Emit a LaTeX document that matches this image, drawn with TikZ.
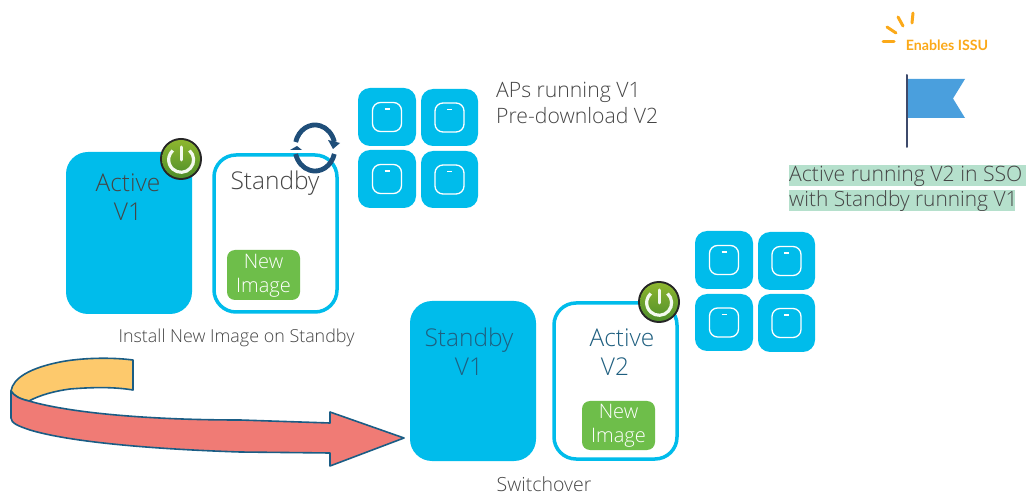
\documentclass[tikz,border=0pt]{standalone}
\usepackage{fontspec}
\setmainfont{Open Sans Light}[BoldFont={Open Sans}]
\newfontfamily\lato{Lato}
\definecolor{ciscoblue}{HTML}{00BCEB}
\definecolor{imggreen}{HTML}{6EBE4A}
\definecolor{txtgrey}{HTML}{454545}
\definecolor{titleblue}{HTML}{1F5F80}
\definecolor{syncblue}{HTML}{1F4E79}
\definecolor{arrowred}{HTML}{F07B75}
\definecolor{arrowyel}{HTML}{FDC96C}
\definecolor{edgeblue}{HTML}{1A5D85}
\definecolor{orangetxt}{HTML}{FBA919}
\definecolor{flagblue}{HTML}{4A9FDD}
\definecolor{hl}{HTML}{B5E0CC}
\definecolor{poletone}{HTML}{3E4A6B}
\definecolor{powertop}{HTML}{8DB62F}
\definecolor{powerbot}{HTML}{4E8E2B}
\tikzset{
  solidbox/.style={draw=none,fill=ciscoblue,rounded corners=22pt},
  linebox/.style={draw=ciscoblue,line width=3.5pt,fill=white,rounded corners=22pt},
  imgbox/.style={fill=imggreen,rounded corners=8pt},
  imgtext/.style={text=white,align=center,inner sep=0pt,font=\fontsize{20}{24}\selectfont},
  boxlabel/.style={align=center,font=\fontsize{24.5}{29}\selectfont,text=txtgrey,inner sep=0pt},
  tile/.style={fill=ciscoblue,rounded corners=12pt},
  apglyph/.style={draw=white,line width=1.3pt,rounded corners=8pt},
  apdot/.style={draw=white,line width=1.3pt},
  caption/.style={font=\fontsize{17.9}{22}\selectfont,text=txtgrey,inner sep=0pt},
  note/.style={anchor=west,inner sep=0pt,font=\fontsize{21.2}{24}\selectfont,text=txtgrey},
  hlbox/.style={fill=hl,draw=none},
  ray/.style={draw=orangetxt,line width=3pt,line cap=round},
  arrowedge/.style={draw=edgeblue,line width=1.6pt,line join=round},
}
\newcommand{\aptile}[4]{% x1 y1 x2 y2
  \fill[tile] (#1,#2) rectangle (#3,#4);
  \draw[apglyph] ({(#1+#3)/2-14.5},{(#2+#4)/2-14.5}) rectangle ({(#1+#3)/2+14.5},{(#2+#4)/2+14.5});
  \draw[apdot] ({(#1+#3)/2-2.5},{(#2+#4)/2-8}) -- ({(#1+#3)/2+2.5},{(#2+#4)/2-8});
}
\newcommand{\powericon}[3]{% name x y
  \node[circle,minimum size=42pt,inner sep=0pt,fill=black!85] (#1) at (#2,#3) {};
  \shade[top color=powertop,bottom color=powerbot] (#2,#3) circle (19);
  \draw[white!92!imggreen,line width=3.2pt] ({#2+8.5},{#3-8.5}) arc[start angle=-48,end angle=228,radius=12.5];
  \draw[white!92!imggreen,line width=3pt,line cap=round] (#2,{#3-12}) -- (#2,{#3+1});
}
\begin{document}
\begin{tikzpicture}[x=1pt,y=-1pt]
\useasboundingbox (0,0) rectangle (1026,494);
% first pair
\fill[solidbox] (66,152) rectangle (192,314);
\node[boxlabel] (active1) at (128,197) {Active\\V1};
\draw[linebox] (214,155) rectangle (337,312);
\node[boxlabel] (standby1) at (275,183) {Standby};
\fill[imgbox] (227,250) rectangle (300,300);
\node[imgtext] (img1) at (263.5,275.5) {New\\Image};
\powericon{pw1}{181}{159}
% sync icon
\draw[syncblue,line width=4.8pt] (295.7,142) arc[start angle=195,end angle=345,x radius=20,y radius=23];
\draw[syncblue,line width=4.8pt] (334.3,154) arc[start angle=15,end angle=165,x radius=20,y radius=23];
\fill[syncblue] (328,140) -- (340,143) -- (333,149) -- cycle;
\fill[syncblue] (290,150) -- (302,150) -- (297,146) -- cycle;
% AP tiles
\aptile{358}{88}{416}{146}
\aptile{421}{89}{478}{146}
\aptile{358}{150}{416}{208}
\aptile{421}{151}{478}{208}
\node[note] (aps1) at (496,92) {APs running V1};
\node[note] (aps2) at (496,116) {Pre-download V2};
\node[caption] (cap1) at (236.5,338) {Install New Image on Standby};
% second pair
\fill[solidbox] (410,301) rectangle (536,461);
\node[boxlabel,text=titleblue] (standby2) at (469,352) {Standby\\V1};
\draw[linebox] (554,303) rectangle (677,459);
\node[boxlabel,text=titleblue] (active2) at (622,352) {Active\\V2\rule{14pt}{0pt}};
\fill[imgbox] (582,401) rectangle (655,450);
\node[imgtext] (img2) at (618.5,426) {New\\Image};
\powericon{pw2}{659}{302}
\aptile{695}{231}{753}{289}
\aptile{758}{232}{815}{290}
\aptile{695}{294}{753}{351}
\aptile{758}{294}{815}{352}
\node[caption,font=\fontsize{19.5}{22}\selectfont] (cap2) at (544,484) {Switchover};
% curved arrow
\draw[arrowedge,fill=arrowyel] (133,360) .. controls (110,357) and (80,358) .. (60,362) .. controls (30,368) and (13,378) .. (11,391) .. controls (14,396) and (20,399) .. (29,401) .. controls (40,395) and (55,391) .. (70,389) .. controls (95,387) and (115,387) .. (133,390) -- cycle;
\draw[arrowedge,fill=arrowred] (11,391) .. controls (14,396) and (20,399) .. (29,401) .. controls (70,413) and (150,420) .. (240,420) -- (330,423) -- (330,412) -- (404,438) -- (330,466) -- (330,453) -- (240,452) .. controls (150,449) and (70,442) .. (30,430) .. controls (18,426) and (11,423) .. (11,418) -- cycle;
% ISSU flag
\draw[ray] (883,42) -- (894,42);
\draw[ray] (887,27) -- (896,33);
\draw[ray] (898,17) -- (903,26);
\draw[ray] (913,13) -- (912,23);
\node[font=\lato\bfseries\fontsize{14.2}{16}\selectfont,text=orangetxt,inner sep=0pt] (issu) at (947,45) {Enables ISSU};
\fill[flagblue] (908,79) -- (965,79) -- (953,98.5) -- (965,118) -- (908,118) -- cycle;
\draw[poletone,line width=2pt,line cap=round] (907,75) -- (907,147);
\fill[hlbox] (789,165) rectangle (1026,186);
\fill[hlbox] (789,190) rectangle (1015,211);
\node[note] (n1) at (789,176) {Active running V2 in SSO};
\node[note,font=\fontsize{20.9}{24}\selectfont] (n2) at (789,201) {with Standby running V1};
\end{tikzpicture}
\end{document}
